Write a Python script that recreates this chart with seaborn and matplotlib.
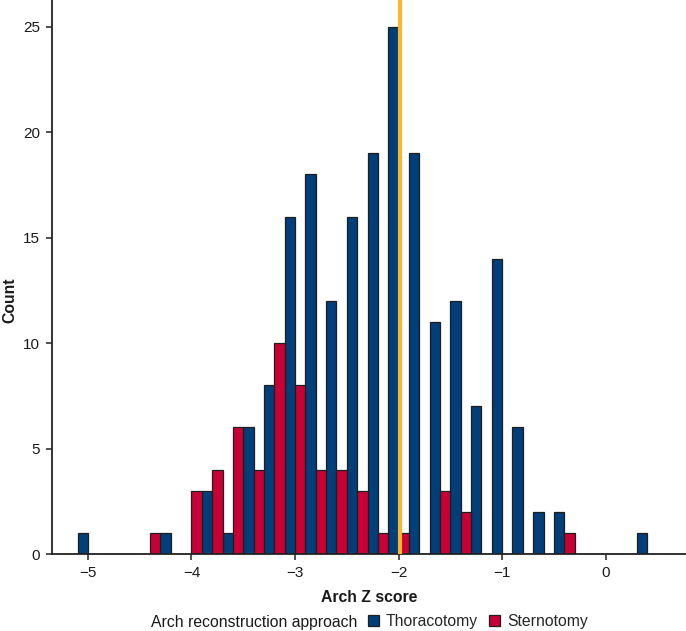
import numpy as np
import pandas as pd
import matplotlib
matplotlib.use("Agg")
import matplotlib.pyplot as plt
from matplotlib.patches import Patch
import seaborn as sns

# ---- data ----
bin_starts = [-5.2, -5.0, -4.8, -4.6, -4.4, -4.2, -4.0, -3.8, -3.6, -3.4,
              -3.2, -3.0, -2.8, -2.6, -2.4, -2.2, -2.0, -1.8, -1.6, -1.4,
              -1.2, -1.0, -0.8, -0.6, -0.4, -0.2, 0.0, 0.2]
thoracotomy_counts = [1, 0, 0, 0, 1, 0, 3, 1, 6, 8,
                      16, 18, 12, 16, 19, 25, 19, 11, 12, 7,
                      14, 6, 2, 2, 0, 0, 0, 1]
sternotomy_counts = [0, 0, 0, 0, 1, 0, 3, 4, 6, 4,
                     10, 8, 4, 4, 3, 1, 1, 0, 3, 2,
                     0, 0, 0, 0, 1, 0, 0, 0]
groups = ["Thoracotomy", "Sternotomy"]
reference_line = -1.99
x_ticks = [-5, -4, -3, -2, -1, 0]
y_ticks = [0, 5, 10, 15, 20, 25]

bin_width = 0.2
colors = {"Thoracotomy": "#003f7a", "Sternotomy": "#c90035"}
line_color = "#fbb62b"

rows = []
for start, t, s in zip(bin_starts, thoracotomy_counts, sternotomy_counts):
    c = round(start + bin_width / 2, 3)
    if t:
        rows.append({"z": c, "count": t, "approach": "Thoracotomy"})
    if s:
        rows.append({"z": c, "count": s, "approach": "Sternotomy"})
df = pd.DataFrame(rows)

sns.set_style("ticks")
plt.rcParams["font.family"] = ["Liberation Sans", "DejaVu Sans"]

W, H = 686, 631
fig = plt.figure(figsize=(W / 100, H / 100), dpi=100)
ax_left, ax_bottom_px = 51.7, 554
ax = fig.add_axes([ax_left / W, (H - ax_bottom_px) / H, (W - ax_left) / W, ax_bottom_px / H])

sns.histplot(data=df, x="z", weights="count", hue="approach",
             hue_order=["Sternotomy", "Thoracotomy"], palette=colors,
             binwidth=bin_width, binrange=(bin_starts[0], bin_starts[-1] + bin_width),
             multiple="dodge", shrink=1, alpha=1,
             edgecolor="#1e1e1e", linewidth=0.9, legend=False, ax=ax)

ax.axvline(reference_line, color=line_color, lw=3, zorder=5)

ax.set_xlim(-5.35, 0.776)
ax.set_ylim(0, 26.27)
ax.set_xticks(x_ticks)
ax.set_yticks(y_ticks)
ax.tick_params(axis="both", labelsize=11, length=4, width=1.1, color="#222222",
               labelcolor="#1a1a1a", pad=4.5)
for side in ["top", "right"]:
    ax.spines[side].set_visible(False)
for side in ["left", "bottom"]:
    ax.spines[side].set_linewidth(1.3)
    ax.spines[side].set_color("#222222")

ax.set_xlabel("Arch Z score", fontsize=11.3, fontweight="bold", color="#1a1a1a")
ax.xaxis.label.set_va("baseline")
ax.xaxis.set_label_coords(0.5, (ax_bottom_px - 602.3) / ax_bottom_px)
ax.set_ylabel("Count", fontsize=11.3, fontweight="bold", color="#1a1a1a")
ax.yaxis.label.set_va("center")
ax.yaxis.set_label_coords((10 - ax_left) / (W - ax_left), (ax_bottom_px - 300) / ax_bottom_px)

# legend: title on the left, entries to the right
fig.text(150.7 / W, (H - 626.7) / H, "Arch reconstruction approach",
         fontsize=11.3, color="#1a1a1a", va="baseline", ha="left")
handles = [Patch(facecolor=colors[g], edgecolor="#1e1e1e", linewidth=0.9) for g in groups]
fig.legend(handles, groups, loc="center left",
           bbox_to_anchor=(368 / W, (H - 621.5) / H), ncol=2, frameon=False,
           fontsize=11.3, handlelength=0.7, handleheight=0.7, handletextpad=0.45,
           columnspacing=0.7, borderpad=0, borderaxespad=0)

fig.savefig("out.png", dpi=100)
